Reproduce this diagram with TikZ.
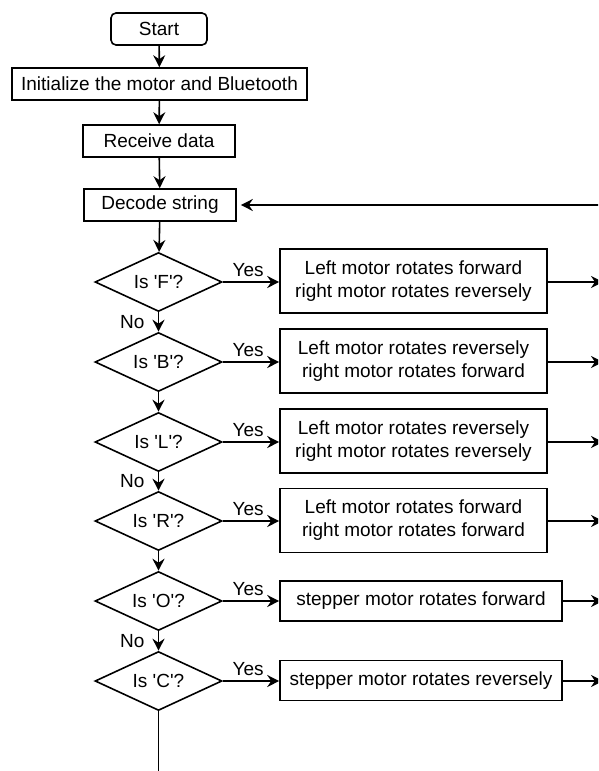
\documentclass[tikz,border=0pt]{standalone}
\usepackage{fontspec}
\setmainfont{Liberation Sans}
\usetikzlibrary{shapes,arrows.meta,calc}
\def\q{\textquotesingle}

\begin{document}
\begin{tikzpicture}[x=1pt,y=-1pt,line width=1.6pt]
\tikzstyle{every node}=[font=\fontsize{19}{23}\selectfont]
\tikzstyle{proc}=[draw,rectangle,minimum height=32pt,inner sep=0pt,align=center]
\tikzstyle{act}=[draw,rectangle,inner sep=0pt,align=center]
\tikzstyle{decision}=[draw,diamond,aspect=2.15,minimum width=127pt,minimum height=59pt,inner sep=0pt]
\tikzstyle{arr}=[-{Stealth[length=12pt,width=12pt,inset=4pt]}]
\tikzstyle{yes}=[above,pos=0.45,inner sep=5pt]
\tikzstyle{no}=[left=10pt,midway]

	\clip (0,0) rectangle (598,771);

	\node[proc,rounded corners=5pt,minimum width=96pt] (start) at (159,29) {Start};
	\node[proc,minimum width=295pt] (init) at (159.5,84) {Initialize the motor and Bluetooth};
	\node[proc,minimum width=152pt] (recv) at (159,141) {Receive data};
	\node[proc,minimum width=152pt] (decode) at (160,205) {Decode string};

	% decisions and actions
	\node[decision] (isF) at (158.5,282) {Is \q F\q?};
	\node[decision] (isB) at (158.5,362) {Is \q B\q?};
	\node[decision] (isL) at (158.5,442) {Is \q L\q?};
	\node[decision] (isR) at (158.5,521) {Is \q R\q?};
	\node[decision] (isO) at (158.5,601) {Is \q O\q?};
	\node[decision] (isC) at (158.5,681) {Is \q C\q?};

	\node[act,minimum width=267pt,minimum height=64pt] (actF) at (413.5,281) {Left motor rotates forward\\right motor rotates reversely};
	\node[act,minimum width=267pt,minimum height=64pt] (actB) at (413.5,361) {Left motor rotates reversely\\right motor rotates forward};
	\node[act,minimum width=267pt,minimum height=64pt] (actL) at (413.5,441) {Left motor rotates reversely\\right motor rotates reversely};
	\node[act,minimum width=267pt,minimum height=64pt] (actR) at (413.5,520.5) {Left motor rotates forward\\right motor rotates forward};
	\node[act,minimum width=282pt,minimum height=40pt] (actO) at (421,601) {stepper motor rotates forward};
	\node[act,minimum width=282pt,minimum height=40pt] (actC) at (421,680.5) {stepper motor rotates reversely};

	\coordinate (back) at (606,205);
	\coordinate (stop) at (158.5,790);

	\draw[arr] (start) -- (init);
	\draw[arr] (init) -- (recv);
	\draw[arr] (recv) -- (decode);
	\draw[arr] (decode) -- (isF);
	\draw[arr] (isF) -- node[no]{No} (isB);
	\draw[arr] (isB) -- (isL);
	\draw[arr] (isL) -- node[no]{No} (isR);
	\draw[arr] (isR) -- (isO);
	\draw[arr] (isO) -- node[no]{No} (isC);
	\draw (isC.south) -- (stop);
	\draw[arr,shorten >=4pt] (back) -- (decode.east);

	\foreach \d in {F,B,L,R,O,C} {
		\draw[arr] (is\d.east) -- node[yes]{Yes} (is\d.east -| act\d.west);
		\draw[arr] (is\d.east -| act\d.east) -- (603,0 |- is\d.east);
	}
\end{tikzpicture}
\end{document}
